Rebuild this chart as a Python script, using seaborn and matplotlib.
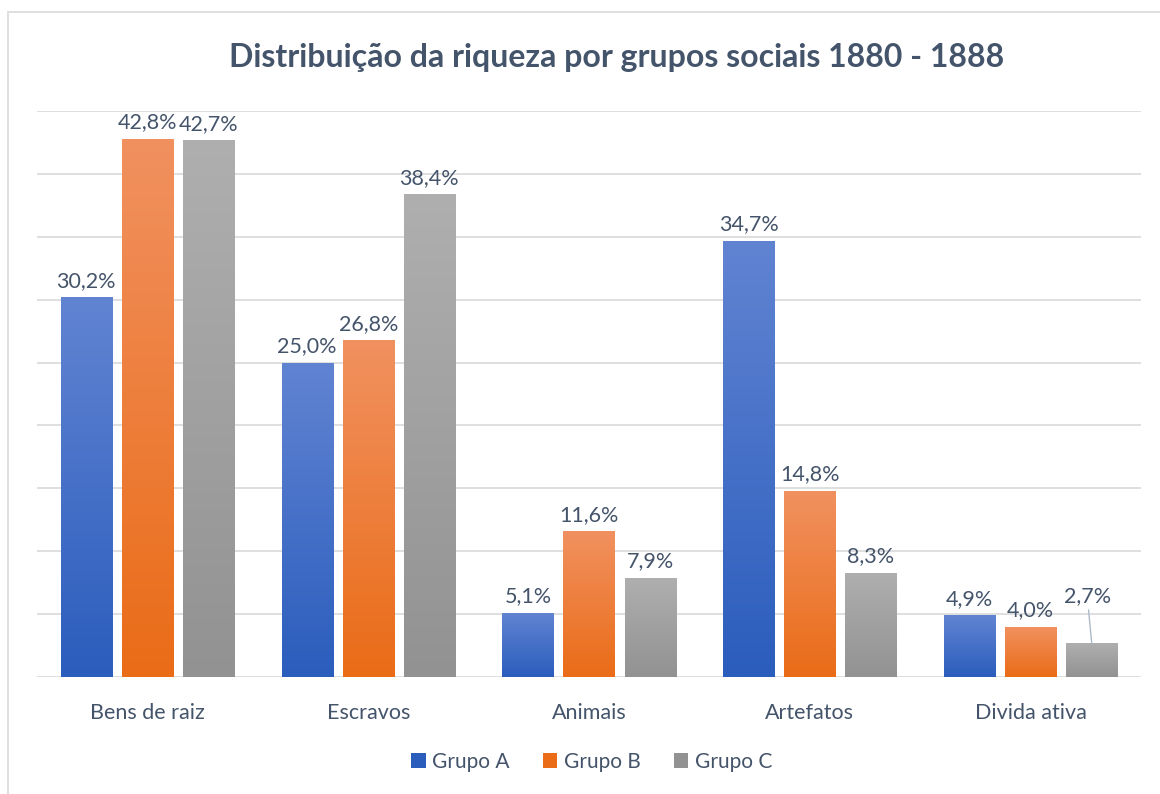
import numpy as np
import pandas as pd
import matplotlib
matplotlib.use('Agg')
import matplotlib.pyplot as plt
import matplotlib.patches as mpatches
from matplotlib.colors import LinearSegmentedColormap
import seaborn as sns

categorias = ['Bens de raiz', 'Escravos', 'Animais', 'Artefatos', 'Divida ativa']
grupos = ['Grupo A', 'Grupo B', 'Grupo C']
grupo_a = [30.2, 25.0, 5.1, 34.7, 4.9]
grupo_b = [42.8, 26.8, 11.6, 14.8, 4.0]
grupo_c = [42.7, 38.4, 7.9, 8.3, 2.7]

df = pd.DataFrame({
    'categoria': categorias * 3,
    'grupo': [g for g in grupos for _ in categorias],
    'valor': grupo_a + grupo_b + grupo_c,
})

# cores (topo, base) do gradiente
gradientes = {
    'Grupo A': ('#6184D2', '#2B5DBD'),
    'Grupo B': ('#F19160', '#EA6C17'),
    'Grupo C': ('#AFAFAF', '#929292'),
}
texto = '#44546A'

sns.set_theme(style='white')
plt.rcParams['font.family'] = ['Lato', 'DejaVu Sans']

fig = plt.figure(figsize=(11.6, 7.94), dpi=100)
ax = fig.add_axes([37 / 1160, 1 - 677 / 794, (1141 - 37) / 1160, (677 - 111) / 794])

paleta = {g: gradientes[g][1] for g in grupos}
sns.barplot(data=df, x='categoria', y='valor', hue='grupo', palette=paleta,
            width=0.83, gap=0.165, ax=ax, legend=False, errorbar=None)

ax.set_ylim(0, 45)
ax.set_xlim(-0.5, 4.5)
ax.set_yticks(np.arange(0, 46, 5))
ax.yaxis.grid(True, color='#D9D9D9', linewidth=1.2)
ax.set_axisbelow(True)
ax.tick_params(axis='y', left=False, labelleft=False)
ax.tick_params(axis='x', bottom=False, labelsize=15.5, colors=texto, pad=13)
ax.set_xlabel('')
ax.set_ylabel('')
for s in ax.spines.values():
    s.set_visible(False)

# gradiente em cada barra
for i, g in enumerate(grupos):
    cmap = LinearSegmentedColormap.from_list(g, [gradientes[g][1], gradientes[g][0]])
    for j in range(len(categorias)):
        p = ax.patches[i * len(categorias) + j]
        x0, y0 = p.get_x(), p.get_y()
        w, h = p.get_width(), p.get_height()
        grad = np.linspace(0, 1, 256).reshape(-1, 1)
        im = ax.imshow(grad, cmap=cmap, origin='lower', aspect='auto',
                       extent=[x0, x0 + w, y0, y0 + h], zorder=p.get_zorder())
        im.set_clip_path(p)
        p.set_facecolor('none')
        p.set_edgecolor('none')
        val = h
        lbl = f'{val:.1f}%'.replace('.', ',')
        cx = x0 + w / 2
        if g == 'Grupo C' and categorias[j] == 'Divida ativa':
            ax.annotate(lbl, xy=(cx, val), xytext=(cx - 0.02, val + 2.9),
                        ha='center', va='bottom', fontsize=15.5, color=texto,
                        arrowprops=dict(arrowstyle='-', color='#ADB9CA', lw=1,
                                        shrinkA=0, shrinkB=0))
        else:
            ax.text(cx, val + 0.5, lbl, ha='center', va='bottom', fontsize=15.5, color=texto)

ax.set_xlim(-0.5, 4.5)
ax.set_ylim(0, 45)

# legenda
handles = [mpatches.Patch(facecolor=gradientes[g][1], edgecolor='none') for g in grupos]
fig.legend(handles, grupos, loc='center', bbox_to_anchor=(0.51, 1 - 762 / 794),
           ncol=3, frameon=False, fontsize=15, labelcolor=texto,
           handlelength=0.7, handleheight=0.7, handletextpad=0.3, columnspacing=1.6)

fig.text(0.532, 1 - 58 / 794, 'Distribuição da riqueza por grupos sociais 1880 - 1888',
         ha='center', va='center', fontsize=23, fontweight='bold', color=texto)

# borda do gráfico
fig.patches.append(mpatches.Rectangle((8 / 1160, -0.1), 1.2, 1 - 12 / 794 + 0.1,
                                      transform=fig.transFigure, fill=False,
                                      edgecolor='#D9D9D9', linewidth=1.2))

fig.savefig('out.png', dpi=100, facecolor='white')
